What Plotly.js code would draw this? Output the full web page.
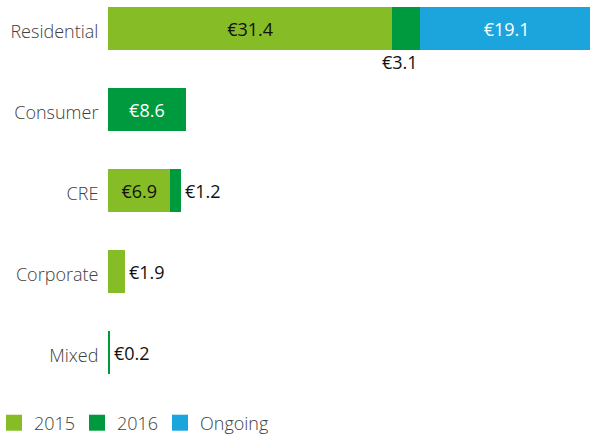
<!DOCTYPE html>
<html>
<head>
<meta charset="utf-8">
<script src="https://cdn.plot.ly/plotly-3.0.1.min.js"></script>
<style>html,body{margin:0;padding:0;background:#fff;}#chart{width:590px;height:437px;}</style>
</head>
<body>
<div id="chart"></div>
<script>
const categories = ['Residential', 'Consumer', 'CRE', 'Corporate', 'Mixed'];
const seriesNames = ['2015', '2016', 'Ongoing'];
const v2015 = [31.4, null, 6.9, 1.9, null];
const v2016 = [3.1, 8.6, 1.2, null, 0.2];
const vOngoing = [19.1, null, null, null, null];

const allSeries = [v2015, v2016, vOngoing];
const colors = ['#86BC25', '#009A3E', '#1BA5DC'];
const insideColors = ['#111111', '#ffffff', '#ffffff'];
const FONT = '"Open Sans", "DejaVu Sans", sans-serif';
const fmt = v => '\u20AC' + v.toFixed(1);
const minInside = 5;

const traces = allSeries.map((vals, s) => ({
  type: 'bar',
  orientation: 'h',
  name: seriesNames[s],
  y: categories,
  x: vals,
  marker: {color: colors[s], line: {width: 0}},
  text: vals.map(v => (v != null && v >= minInside) ? fmt(v) : ''),
  textposition: vals.map(v => (v != null && v >= minInside) ? 'inside' : 'none'),
  insidetextanchor: 'middle',
  textfont: {family: FONT, size: 18, color: insideColors[s]},
  hoverinfo: 'none'
}));

const annotations = [];
categories.forEach((c, i) => {
  let cum = 0;
  allSeries.forEach((vals, s) => {
    const v = vals[i];
    if (v == null) return;
    const end = cum + v;
    if (v < minInside) {
      const hasNext = allSeries.slice(s + 1).some(o => o[i] != null);
      if (hasNext) {
        annotations.push({x: end, y: c, xref: 'x', yref: 'y', text: fmt(v), showarrow: false,
          xanchor: 'right', yanchor: 'middle', yshift: -33,
          font: {family: FONT, size: 18, color: '#111111'}});
      } else {
        annotations.push({x: end, y: c, xref: 'x', yref: 'y', text: fmt(v), showarrow: false,
          xanchor: 'left', yanchor: 'middle', xshift: 2,
          font: {family: FONT, size: 18, color: '#111111'}});
      }
    }
    cum = end;
  });
});

const layout = {
  width: 590, height: 437,
  margin: {l: 108, r: 0, t: 0, b: 47, pad: 0},
  paper_bgcolor: '#ffffff', plot_bgcolor: '#ffffff',
  barmode: 'stack',
  bargap: 0.469,
  showlegend: true,
  xaxis: {range: [0, 53.26], visible: false, fixedrange: true},
  yaxis: {
    type: 'category',
    range: [4.463, -0.352],
    showgrid: false, zeroline: false, showline: false,
    ticks: 'outside', ticklen: 5, tickcolor: 'rgba(0,0,0,0)',
    ticklabelshift: -3,
    tickfont: {family: FONT, size: 18, color: '#404040', weight: 300}
  },
  legend: {
    orientation: 'h',
    xref: 'container', yref: 'container',
    x: 0, y: 0.032, xanchor: 'left', yanchor: 'middle',
    font: {family: FONT, size: 18, color: '#404040', weight: 300},
    traceorder: 'normal',
    itemwidth: 30,
    entrywidth: 38, entrywidthmode: 'pixels',
    bgcolor: 'rgba(0,0,0,0)'
  },
  annotations: annotations
};

Plotly.newPlot('chart', traces, layout, {displayModeBar: false, staticPlot: true}).then(gd => {
  // nudge legend left, unclip its last entry and enlarge its square swatches to match the reference
  const lg = gd.querySelector('g.legend');
  if (lg) {
    const t = lg.getAttribute('transform') || '';
    const m = t.match(/translate\(\s*([-\d.]+)[ ,]+([-\d.]+)\s*\)/);
    if (m) lg.setAttribute('transform', 'translate(' + (parseFloat(m[1]) - 6) + ',' + m[2] + ')');
    lg.querySelectorAll('[clip-path]').forEach(el => el.removeAttribute('clip-path'));
    lg.querySelectorAll('.legendpoints path').forEach(p => {
      const d = (p.getAttribute('d') || '').replace(/\s/g, '');
      if (d === 'M6,6H-6V-6H6Z') p.setAttribute('d', 'M8,8H-8V-8H8Z');
    });
  }
});
</script>
</body>
</html>
